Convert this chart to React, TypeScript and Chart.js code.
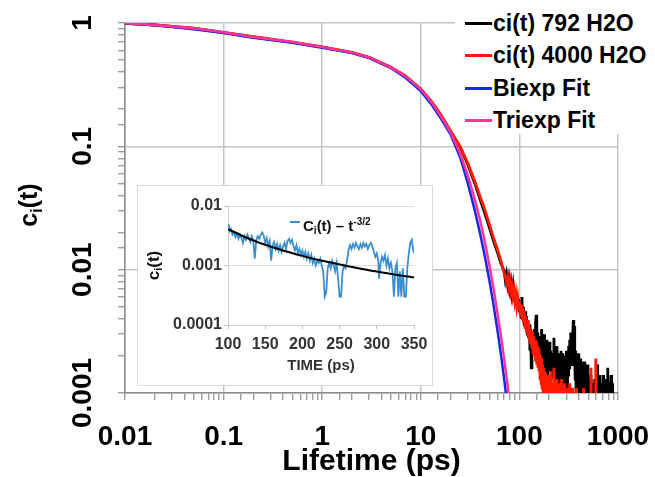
import React, { useEffect, useRef } from 'react';
import { Chart, registerables } from 'chart.js';

Chart.register(...registerables);

const FONT = '"Liberation Sans", Arial, Helvetica, sans-serif';

// ---------- main chart data ----------
const seriesNames = ['ci(t) 792 H2O', 'ci(t) 4000 H2O', 'Biexp Fit', 'Triexp Fit'];
const seriesColors = ['#000000', '#ff1a00', '#1428e6', '#ff3399'];

const blackTimes = [
  0.01, 0.02, 0.05, 0.1, 0.2, 0.5, 1, 2, 3, 5, 7, 10, 13, 16, 20, 25, 30, 35, 40, 45, 50, 55, 60, 65,
  70, 72, 74, 76, 78, 80, 82, 84, 86, 88,
  90, 92, 94, 96, 98, 100, 102, 104, 106, 108,
  110, 112, 114, 116, 118, 120, 122, 124, 126, 128,
  130, 132, 134, 136, 138, 140, 142, 144, 146, 148,
  150, 152, 154, 156, 158, 160, 162, 164, 166, 168,
  170, 172, 174, 176, 178, 180, 182, 184, 186, 188,
  190, 192, 194, 196, 198, 200,
  204, 208, 212, 216, 220, 224, 228, 232, 236, 240,
  244, 248, 252, 256, 260, 264, 268, 272, 276, 280,
  284, 288, 292, 296, 300, 304, 308, 312, 316, 320,
  324, 328, 332, 336, 340, 344, 348, 352, 356, 360,
  364, 368, 372, 376, 380, 384, 388, 392, 396, 400,
  406, 412, 418, 424, 430, 436, 442, 448, 454, 460,
  466, 472, 478, 484, 490, 496, 502, 508, 514, 520,
  526, 532, 538, 544, 550, 556, 562, 568, 574, 580,
  586, 592, 598, 604, 610, 616, 622, 628, 634, 640,
  646, 652, 658, 664, 670, 676, 682, 688, 694, 700,
  706, 712, 718, 724, 730, 736, 742, 748, 754, 760,
  766, 772, 778, 784, 790, 796, 802, 808, 814, 820,
  826, 832, 838, 844, 850, 856, 862, 868, 874, 880,
  886, 892, 898,
];
const blackValues = [
  0.995, 0.963, 0.905, 0.835, 0.77, 0.697, 0.637, 0.575, 0.524, 0.434, 0.369, 0.289, 0.224, 0.177, 0.132,
  0.099, 0.071, 0.051, 0.037, 0.028, 0.0215, 0.0168, 0.0138, 0.0112,
  0.0098, 0.0082, 0.0092, 0.0076, 0.0086, 0.007, 0.0079, 0.0064, 0.0074, 0.0058,
  0.0068, 0.0054, 0.0063, 0.0049, 0.0058, 0.0045, 0.0055, 0.0041, 0.006, 0.0039,
  0.005, 0.0035, 0.0046, 0.0033, 0.0042, 0.003, 0.0039, 0.0028, 0.0036, 0.0022,
  0.0033, 0.0016, 0.0029, 0.0023, 0.0031, 0.0021, 0.0033, 0.0022, 0.0037, 0.0043,
  0.0024, 0.0031, 0.0019, 0.0027, 0.0017, 0.0026, 0.0021, 0.0029, 0.0018, 0.0033,
  0.0022, 0.0028, 0.0016, 0.0026, 0.0019, 0.003, 0.0015, 0.0024, 0.0018, 0.0027,
  0.0016, 0.0025, 0.0014, 0.0023, 0.0017, 0.0026,
  0.0015, 0.0022, 0.0013, 0.0021, 0.0016, 0.0028, 0.0014, 0.002, 0.0012, 0.0024,
  0.0015, 0.0021, 0.0011, 0.0019, 0.0014, 0.0022, 0.001, 0.0018, 0.0021, 0.0008,
  0.0017, 0.0013, 0.002, 0.0012, 0.0022, 0.0009, 0.0018, 0.0014, 0.0024, 0.0016,
  0.0027, 0.0019, 0.0031, 0.0021, 0.0026, 0.0017, 0.0029, 0.0039, 0.0024, 0.0035,
  0.0019, 0.0013, 0.0022, 0.0009, 0.0017, 0.0021, 0.0011, 0.0016, 0.0008, 0.0021,
  0.0012, 0.0019, 0.0009, 0.0016, 0.0008, 0.0018, 0.0011, 0.0015, 0.0007, 0.0018,
  0.0012, 0.0007, 0.0014, 0.0009, 0.0017, 0.0008, 0.0013, 0.0007, 0.0012, 0.0009,
  0.0007, 0.0014, 0.001, 0.0007, 0.0012, 0.0007, 0.0011, 0.0008, 0.0007, 0.0013,
  0.0007, 0.001, 0.0007, 0.0012, 0.0007, 0.0017, 0.0007, 0.0009, 0.0007, 0.0011,
  0.0007, 0.0014, 0.0007, 0.0007, 0.001, 0.0007, 0.0012, 0.0007, 0.0007, 0.0011,
  0.0014, 0.0007, 0.0009, 0.0007, 0.0007, 0.0012, 0.0007, 0.0009, 0.0007, 0.0013,
  0.0007, 0.0007, 0.0011, 0.0007, 0.0016, 0.0007, 0.0007, 0.001, 0.0007, 0.0012,
  0.0007, 0.0009, 0.0007, 0.0007, 0.0014, 0.0007, 0.0008, 0.0007, 0.0012, 0.0007,
  0.0011, 0.0007, 0.001,
];

const redTimes = [
  0.01, 0.02, 0.05, 0.1, 0.2, 0.5, 1, 2, 3, 5, 7, 10, 13, 16, 20, 25, 30, 35, 40, 45, 50, 55, 60, 65,
  70, 72, 74, 76, 78, 80, 82, 84, 86, 88,
  90, 92, 94, 96, 98, 100, 102, 104, 106, 108,
  110, 112, 114, 116, 118, 120, 122, 124, 126, 128,
  130, 132, 134, 136, 138, 140, 142, 144, 146, 148,
  150, 152, 154, 156, 158, 160, 162, 164, 166, 168,
  170, 172, 174, 176, 178, 180, 182, 184, 186, 188,
  190, 192, 194, 196, 198, 200,
  204, 208, 212, 216, 220, 224, 228, 232, 236, 240,
  244, 248, 252, 256, 260, 264, 268, 272, 276, 280,
  284, 288, 292, 296, 300, 304, 308, 312, 316, 320,
  324, 328, 332, 336, 340, 344, 348, 352, 356, 360,
  364, 368, 372, 376, 380, 384, 388, 392, 396, 400,
  406, 412, 418, 424, 430, 436, 442, 448, 454, 460,
  466, 472, 478, 484, 490, 496, 502, 508, 514, 520,
  526, 532, 538, 544, 550, 556, 562, 568, 574, 580,
  586, 592, 598, 604, 610, 616, 622, 628, 634, 640,
  646, 652, 658, 664, 670, 676, 682, 688, 694, 700,
  706, 712, 718, 724, 730, 736, 742,
];
const redValues = [
  0.995, 0.965, 0.91, 0.84, 0.775, 0.7, 0.64, 0.578, 0.527, 0.437, 0.372, 0.292, 0.228, 0.18, 0.134,
  0.1, 0.073, 0.053, 0.039, 0.03, 0.023, 0.0178, 0.0145, 0.0118,
  0.0094, 0.0088, 0.0079, 0.0086, 0.0072, 0.0081, 0.0066, 0.0073, 0.0061, 0.0068,
  0.0056, 0.0063, 0.0051, 0.0058, 0.0047, 0.0055, 0.0043, 0.0052, 0.004, 0.0049,
  0.0037, 0.0046, 0.0034, 0.0042, 0.0031, 0.0039, 0.0029, 0.0037, 0.0027, 0.0034,
  0.0025, 0.0032, 0.0023, 0.0031, 0.0021, 0.0029, 0.002, 0.0027, 0.0018, 0.0026,
  0.0017, 0.0024, 0.0016, 0.0023, 0.0015, 0.0021, 0.0013, 0.002, 0.0012, 0.0019,
  0.0011, 0.0017, 0.001, 0.0016, 0.0009, 0.0015, 0.0008, 0.0014, 0.001, 0.0013,
  0.0008, 0.0014, 0.0009, 0.0012, 0.0007, 0.0013,
  0.0009, 0.0015, 0.0007, 0.0012, 0.0009, 0.0016, 0.0007, 0.0011, 0.0008, 0.0013,
  0.0007, 0.0012, 0.0009, 0.0007, 0.0011, 0.0007, 0.0013, 0.0008, 0.0007, 0.001,
  0.0007, 0.0012, 0.0007, 0.0009, 0.0007, 0.0011, 0.0007, 0.0007, 0.001, 0.0007,
  0.0012, 0.0007, 0.0007, 0.0009, 0.0007, 0.0011, 0.0007, 0.0007, 0.001, 0.0007,
  0.0007, 0.0009, 0.0007, 0.0007, 0.0011, 0.0007, 0.0007, 0.0009, 0.0007, 0.0007,
  0.0007, 0.001, 0.0007, 0.0007, 0.0009, 0.0007, 0.0007, 0.0011, 0.0007, 0.0007,
  0.0007, 0.0009, 0.0007, 0.0007, 0.001, 0.0007, 0.0007, 0.0007, 0.0009, 0.0007,
  0.0007, 0.0016, 0.0007, 0.0007, 0.0007, 0.001, 0.0007, 0.0007, 0.0007, 0.0007,
  0.0009, 0.0007, 0.0019, 0.0007, 0.0007, 0.0007, 0.0009, 0.0007, 0.0007, 0.0007,
  0.0007, 0.0008, 0.0007, 0.0007, 0.0007, 0.0009, 0.0007, 0.0007, 0.0007, 0.0007,
  0.0008, 0.0007, 0.0007, 0.0007, 0.0009, 0.0007, 0.0007,
];

const fitTimes = [
  0.01, 0.02, 0.05, 0.1, 0.2, 0.5, 1, 2, 3, 5, 7, 10, 13, 16, 20, 25, 30, 35, 40, 45, 50, 55, 60, 65, 70,
  75, 80, 85,
];
const biexpValues = [
  1.0, 0.96, 0.89, 0.83, 0.76, 0.69, 0.63, 0.57, 0.52, 0.43, 0.36, 0.28, 0.215, 0.168, 0.125, 0.082, 0.05,
  0.031, 0.0195, 0.0124, 0.0079, 0.005, 0.0032, 0.00205, 0.0013, 0.00083, 0.00053, 0.00034,
];
const triexpValues = [
  1.0, 0.965, 0.905, 0.84, 0.77, 0.7, 0.64, 0.575, 0.525, 0.435, 0.37, 0.29, 0.225, 0.175, 0.13, 0.088,
  0.058, 0.038, 0.025, 0.0162, 0.0105, 0.0068, 0.0044, 0.0029, 0.0019, 0.00124, 0.0008, 0.00052,
];

const xTickLabels = ['0.01', '0.1', '1', '10', '100', '1000'];
const yTickLabels = ['0.001', '0.01', '0.1', '1'];

// ---------- inset data ----------
const insetName = 'Ci(t) – t-3/2';
const insetTimes = [
  100, 101, 102.5, 104, 106, 108, 110, 112, 114, 116, 118, 120, 122, 124, 126, 128, 130, 132, 134, 136,
  138, 140, 142, 144, 146, 148, 150, 152, 154, 156, 158, 160, 162, 164, 166, 168, 170, 172, 174, 176, 178,
  180, 182, 184, 186, 188, 190, 192, 194, 196, 198, 200, 202, 204, 206, 208, 210, 212, 214, 216, 218, 220,
  222, 224, 226, 228, 230, 232, 234, 236, 238, 240, 242, 244, 246, 248, 250, 252, 254, 256, 258, 260, 262,
  264, 266, 268, 270, 272, 274, 276, 278, 280, 282, 284, 286, 288, 290, 292, 294, 296, 298, 300, 302, 303,
  305, 307, 309, 311, 313, 315, 317, 319, 321, 323, 325, 327, 329, 331, 333, 335, 337, 339, 341, 343, 345,
  347, 349, 350,
];
const insetValues = [
  0.0045, 0.0049, 0.0038, 0.0041, 0.0033, 0.0036, 0.003, 0.0034, 0.0028, 0.0033, 0.0029, 0.0024, 0.0031,
  0.0027, 0.0033, 0.0029, 0.0025, 0.0031, 0.0026, 0.0013, 0.0027, 0.0031, 0.0028, 0.0033, 0.0036, 0.0032,
  0.0024, 0.0029, 0.0021, 0.0026, 0.0012, 0.0022, 0.0025, 0.0019, 0.0023, 0.0018, 0.0022, 0.0017, 0.0021,
  0.0024, 0.0019, 0.0026, 0.0028, 0.0024, 0.0027, 0.0021, 0.0018, 0.0022, 0.0016, 0.0019, 0.0015, 0.0018,
  0.0014, 0.0017, 0.0013, 0.0016, 0.0012, 0.0015, 0.0011, 0.0013, 0.001, 0.0012, 0.0011, 0.0013, 0.001,
  0.0008, 0.0003, 0.00035, 0.0009, 0.0011, 0.0009, 0.0012, 0.001, 0.0008, 0.0011, 0.0006, 0.0003, 0.0003,
  0.0008, 0.001, 0.0009, 0.0012, 0.0018, 0.0022, 0.0019, 0.0023, 0.002, 0.0024, 0.0021, 0.0019, 0.0023,
  0.002, 0.0024, 0.0021, 0.0023, 0.0019, 0.0022, 0.0024, 0.0021, 0.0017, 0.0014, 0.0016, 0.0012, 0.0006,
  0.0011, 0.0014, 0.0012, 0.0015, 0.001, 0.0013, 0.0009, 0.0011, 0.0008, 0.0003, 0.0009, 0.0011, 0.0003,
  0.0008, 0.0003, 0.0009, 0.0003, 0.0003, 0.0009, 0.0016, 0.0024, 0.0027, 0.0018, 0.0016,
];
const insetFitTimes = [100, 125, 150, 175, 200, 225, 250, 275, 300, 325, 350];
const insetFitValues = [
  0.0041, 0.00293, 0.00223, 0.00177, 0.00145, 0.00121, 0.00104, 0.0009, 0.00079, 0.0007, 0.00063,
];
const insetYTickLabels = ['0.0001', '0.001', '0.01'];
const insetXTickStep = 50;

// ---------- helpers ----------
function pts(xs: number[], ys: number[]) {
  return xs.map((x, i) => ({ x, y: ys[i] }));
}
function isDecade(v: number) {
  const l = Math.log10(v);
  return Math.abs(l - Math.round(l)) < 1e-6;
}
function drawRotSub(
  ctx: CanvasRenderingContext2D,
  cx: number,
  cy: number,
  size: number,
  main: string,
  sub: string,
  rest: string,
  color: string
) {
  ctx.save();
  ctx.translate(cx, cy);
  ctx.rotate(-Math.PI / 2);
  ctx.fillStyle = color;
  ctx.textBaseline = 'middle';
  ctx.textAlign = 'left';
  const big = `bold ${size}px ${FONT}`;
  const small = `bold ${Math.round(size * 0.65)}px ${FONT}`;
  ctx.font = big;
  const w1 = ctx.measureText(main).width;
  const w3 = ctx.measureText(rest).width;
  ctx.font = small;
  const w2 = ctx.measureText(sub).width;
  let x = -(w1 + w2 + w3) / 2;
  ctx.font = big;
  ctx.fillText(main, x, 0);
  x += w1;
  ctx.font = small;
  ctx.fillText(sub, x, size * 0.3);
  x += w2;
  ctx.font = big;
  ctx.fillText(rest, x, 0);
  ctx.restore();
}

const legendRowsY = [23, 55, 88, 120];

export default function App() {
  const mainRef = useRef<HTMLCanvasElement | null>(null);
  const insetRef = useRef<HTMLCanvasElement | null>(null);

  useEffect(() => {
    if (!mainRef.current || !insetRef.current) return;

    const mainDecor = {
      id: 'mainDecor',
      afterDraw(chart: any) {
        const ctx = chart.ctx as CanvasRenderingContext2D;
        const ys = chart.scales.y;
        ctx.save();
        ctx.fillStyle = '#000';
        ctx.font = `bold 28px ${FONT}`;
        ctx.textAlign = 'center';
        ctx.textBaseline = 'middle';
        yTickLabels.forEach((lbl) => {
          const py = ys.getPixelForValue(parseFloat(lbl));
          ctx.save();
          ctx.translate(83, py);
          ctx.rotate(-Math.PI / 2);
          ctx.fillText(lbl, 0, 0);
          ctx.restore();
        });
        ctx.restore();
        const a = chart.chartArea;
        drawRotSub(ctx, 30, (a.top + a.bottom) / 2 - 3, 25, 'c', 'i', '(t)', '#000');
      },
    };

    const gridColor = (c: any) => (c.tick && isDecade(c.tick.value) ? '#c4c4c4' : 'rgba(0,0,0,0)');

    const main = new Chart(mainRef.current, {
      type: 'line',
      data: {
        datasets: [
          { label: seriesNames[0], data: pts(blackTimes, blackValues), borderColor: seriesColors[0], borderWidth: 2.8, pointRadius: 0, order: 3 },
          { label: seriesNames[1], data: pts(redTimes, redValues), borderColor: seriesColors[1], borderWidth: 2.8, pointRadius: 0, order: 2 },
          { label: seriesNames[2], data: pts(fitTimes, biexpValues), borderColor: seriesColors[2], borderWidth: 2.5, pointRadius: 0, order: 1 },
          { label: seriesNames[3], data: pts(fitTimes, triexpValues), borderColor: seriesColors[3], borderWidth: 2.5, pointRadius: 0, order: 0 },
        ],
      },
      options: {
        animation: false,
        responsive: false,
        maintainAspectRatio: false,
        devicePixelRatio: 1,
        layout: { padding: { left: 0, top: 23, right: 37, bottom: 0 } },
        plugins: { legend: { display: false }, tooltip: { enabled: false } },
        elements: { point: { radius: 0 }, line: { tension: 0 } },
        scales: {
          x: {
            type: 'logarithmic',
            min: 0.01,
            max: 1000,
            afterFit: (s: any) => {
              s.height = 84;
              s.paddingLeft = 0;
              s.paddingRight = 0;
            },
            border: { color: '#8c8c8c', width: 1.5 },
            grid: { color: gridColor, lineWidth: 1.5, tickColor: '#8c8c8c', tickLength: 7, tickWidth: 1.2 },
            ticks: {
              autoSkip: false,
              maxRotation: 0,
              minRotation: 0,
              padding: 20,
              color: '#000',
              font: { family: FONT, size: 28, weight: 'bold' },
              callback: (v: any) => (isDecade(Number(v)) ? xTickLabels[Math.round(Math.log10(Number(v))) + 2] : ''),
            },
            title: {
              display: true,
              text: 'Lifetime (ps)',
              color: '#000',
              font: { family: FONT, size: 30, weight: 'bold', lineHeight: 1 },
              padding: { top: 0, bottom: 0 },
            },
          },
          y: {
            type: 'logarithmic',
            min: 0.001,
            max: 1,
            afterFit: (s: any) => {
              s.width = 125;
              s.paddingTop = 0;
              s.paddingBottom = 0;
            },
            border: { color: '#8c8c8c', width: 1.5 },
            grid: { color: gridColor, lineWidth: 1.5, tickColor: '#8c8c8c', tickLength: 7, tickWidth: 1.2 },
            ticks: { display: false, autoSkip: false },
            title: { display: false },
          },
        },
      },
      plugins: [mainDecor],
    } as any);

    const insetDecor = {
      id: 'insetDecor',
      afterDraw(chart: any) {
        const a = chart.chartArea;
        drawRotSub(chart.ctx, 16, (a.top + a.bottom) / 2, 17, 'c', 'i', '(t)', '#111');
      },
    };

    const inset = new Chart(insetRef.current, {
      type: 'line',
      data: {
        datasets: [
          { label: insetName, data: pts(insetTimes, insetValues), borderColor: '#3a8fd0', borderWidth: 1.8, pointRadius: 0, order: 1 },
          { label: 'fit', data: pts(insetFitTimes, insetFitValues), borderColor: '#000', borderWidth: 2, pointRadius: 0, order: 0, cubicInterpolationMode: 'monotone' },
        ],
      },
      options: {
        animation: false,
        responsive: false,
        maintainAspectRatio: false,
        devicePixelRatio: 1,
        layout: { padding: { left: 0, top: 20, right: 18, bottom: 0 } },
        plugins: { legend: { display: false }, tooltip: { enabled: false } },
        elements: { point: { radius: 0 }, line: { tension: 0 } },
        scales: {
          x: {
            type: 'linear',
            min: 100,
            max: 350,
            afterFit: (s: any) => {
              s.height = 60;
              s.paddingLeft = 0;
              s.paddingRight = 0;
            },
            border: { color: '#d0d0d0', width: 1 },
            grid: { color: 'rgba(0,0,0,0)', tickColor: '#c0c0c0', tickLength: 4 },
            ticks: {
              stepSize: insetXTickStep,
              autoSkip: false,
              maxRotation: 0,
              padding: 6,
              color: '#333',
              font: { family: FONT, size: 16, weight: 'bold' },
            },
            title: {
              display: true,
              text: 'TIME (ps)',
              color: '#333',
              font: { family: FONT, size: 15, weight: 'bold', lineHeight: 1.2 },
              padding: { top: 0, bottom: 10 },
            },
          },
          y: {
            type: 'logarithmic',
            min: 0.0001,
            max: 0.01,
            afterFit: (s: any) => {
              s.width = 90;
              s.paddingTop = 0;
              s.paddingBottom = 0;
            },
            border: { color: '#d0d0d0', width: 1 },
            grid: {
              color: (c: any) => (c.tick && isDecade(c.tick.value) ? '#dcdcdc' : 'rgba(0,0,0,0)'),
              tickColor: (c: any) => (c.tick && isDecade(c.tick.value) ? '#c0c0c0' : 'rgba(0,0,0,0)'),
              tickLength: 4,
            },
            ticks: {
              autoSkip: false,
              padding: 2,
              color: '#333',
              font: { family: FONT, size: 16, weight: 'bold' },
              callback: (v: any) =>
                isDecade(Number(v)) ? insetYTickLabels[Math.round(Math.log10(Number(v))) + 4] : '',
            },
            title: { display: false },
          },
        },
      },
      plugins: [insetDecor],
    } as any);

    return () => {
      main.destroy();
      inset.destroy();
    };
  }, []);

  const text: React.CSSProperties = {
    position: 'absolute',
    fontFamily: FONT,
    fontWeight: 'bold',
    whiteSpace: 'nowrap',
    color: '#000',
  };

  return (
    <div style={{ position: 'fixed', left: 0, top: 0, width: 655, height: 477, background: '#fff', overflow: 'hidden' }}>
      <canvas ref={mainRef} width={655} height={477} style={{ position: 'absolute', left: 0, top: 0, width: 655, height: 477, display: 'block' }} />
      {/* legend */}
      <div style={{ position: 'absolute', left: 455, top: 0, width: 200, height: 134, background: '#fff' }}>
        {seriesNames.map((name, i) => (
          <React.Fragment key={name}>
            <div style={{ position: 'absolute', left: 10, top: legendRowsY[i] - 1.5, width: 27, height: 3, background: seriesColors[i] }} />
            <div style={{ ...text, left: 38, top: legendRowsY[i] - 14, fontSize: 23, lineHeight: '28px' }}>{name}</div>
          </React.Fragment>
        ))}
      </div>
      {/* inset */}
      <div style={{ position: 'absolute', left: 137, top: 185, width: 296, height: 201, boxSizing: 'border-box', border: '1px solid #d9d9d9', background: '#fff' }}>
        <canvas ref={insetRef} width={294} height={199} style={{ position: 'absolute', left: 0, top: 0, width: 294, height: 199, display: 'block' }} />
        <div style={{ position: 'absolute', left: 152, top: 35, width: 10, height: 2, background: '#3a8fd0' }} />
        <div style={{ ...text, left: 165, top: 27, fontSize: 15, lineHeight: '18px', color: '#111' }}>
          C<span style={{ fontSize: 10, verticalAlign: '-3px' }}>i</span>(t) – t
          <span style={{ fontSize: 10, verticalAlign: '6px' }}>-3/2</span>
        </div>
      </div>
    </div>
  );
}
